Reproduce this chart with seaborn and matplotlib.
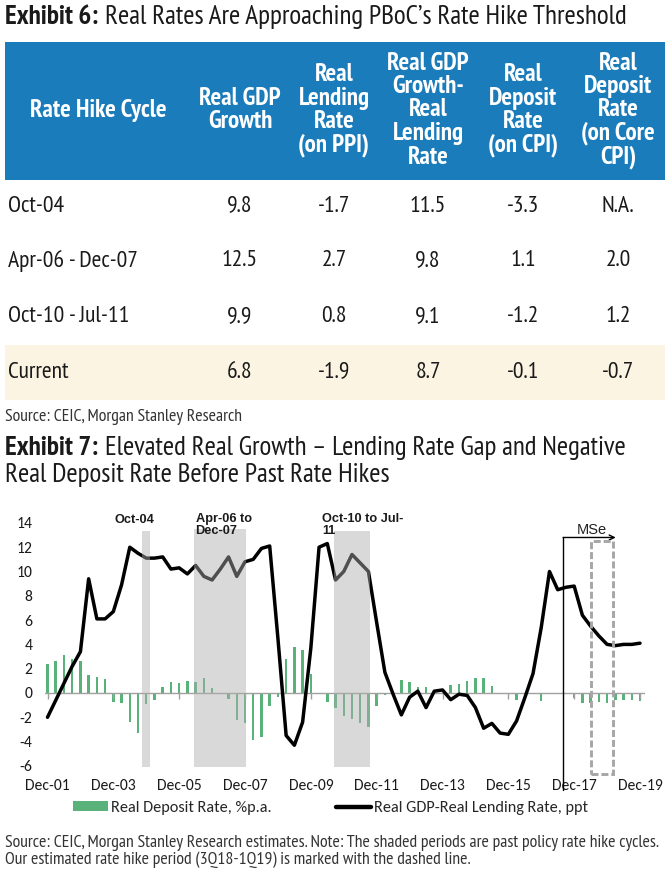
import numpy as np
import pandas as pd
import matplotlib
matplotlib.use("Agg")
import matplotlib.pyplot as plt
import seaborn as sns
from matplotlib.patches import Rectangle, Patch
from matplotlib.lines import Line2D
from matplotlib import font_manager as fm

# ---------------- Table data (Exhibit 6) ----------------
table_headers = ["Rate Hike Cycle", "Real GDP\nGrowth", "Real\nLending\nRate\n(on PPI)",
                 "Real GDP\nGrowth-\nReal\nLending\nRate", "Real\nDeposit\nRate\n(on CPI)",
                 "Real\nDeposit\nRate\n(on Core\nCPI)"]
cycles = ["Oct-04", "Apr-06 - Dec-07", "Oct-10 - Jul-11", "Current"]
real_gdp_growth = ["9.8", "12.5", "9.9", "6.8"]
real_lending_ppi = ["-1.7", "2.7", "0.8", "-1.9"]
gdp_minus_lending = ["11.5", "9.8", "9.1", "8.7"]
real_deposit_cpi = ["-3.3", "1.1", "-1.2", "-0.1"]
real_deposit_core = ["N.A.", "2.0", "1.2", "-0.7"]

# ---------------- Chart data (Exhibit 7), quarterly Dec-01 .. Dec-19 ----------------
quarters = pd.period_range("2001Q4", "2019Q4", freq="Q")
deposit_rate = [2.4, 2.6, 3.1, 2.8, 2.6, 1.5, 1.3, 1.15, -0.7, -0.8,
                -2.4, -3.3, -0.9, -0.6, 0.5, 0.9, 0.85, 1.0, 0.9, 1.2,
                0.4, 0.0, -0.5, -2.2, -2.5, -3.9, -3.6, -1.1, -0.3, 2.8,
                3.8, 3.5, 1.6, 0.0, -0.7, -1.2, -1.9, -2.1, -2.5, -2.8,
                -1.1, -0.2, 0.0, 1.1, 0.9, 0.5, 0.5, 0.0, 0.0, 0.65,
                0.75, 1.0, 1.2, 1.2, 0.55, 0.0, 0.0, -0.6, 0.0, 0.0,
                -0.65, -0.05, -0.05, 0.0, -0.45, -0.8, -0.8, -0.75, -0.8, -0.6,
                -0.6, -0.6, -0.65]
gdp_lending_gap = [-2.0, -0.6, 0.8, 2.2, 3.4, 9.4, 6.1, 6.1, 6.7, 8.9,
                   12.0, 11.5, 11.1, 11.1, 11.2, 10.2, 10.3, 9.8, 10.5, 9.6,
                   9.3, 10.2, 11.2, 9.6, 10.8, 11.0, 11.9, 12.1, 4.5, -3.5,
                   -4.3, -2.4, 3.7, 12.0, 12.3, 9.3, 10.0, 11.4, 10.7, 10.0,
                   5.8, 1.7, -0.1, -1.8, -0.35, 0.15, -1.2, 0.15, 0.25, -0.55,
                   -0.1, -0.2, -1.2, -2.9, -2.5, -3.3, -3.4, -2.3, -0.4, 1.6,
                   5.4, 10.0, 8.5, 8.7, 8.8, 6.4, 5.5, 4.7, 4.0, 3.9,
                   4.0, 4.0, 4.1]
x_tick_labels = ["Dec-01", "Dec-03", "Dec-05", "Dec-07", "Dec-09",
                 "Dec-11", "Dec-13", "Dec-15", "Dec-17", "Dec-19"]
y_ticks = [-6, -4, -2, 0, 2, 4, 6, 8, 10, 12, 14]

# past rate hike cycles (shaded), in quarter index units
band_labels = ["Oct-04", "Apr-06 to\nDec-07", "Oct-10 to Jul-\n11"]
band_start = [11.5, 17.8, 34.8]
band_end = [12.4, 24.1, 39.2]
band_top = [13.3, 13.5, 13.3]
band_bottom = -6.1
forecast_start = 62.7                       # MSe estimates begin
hike_est_start, hike_est_end = 66.1, 68.7   # 3Q18-1Q19 estimated hike period

series_deposit = "Real Deposit Rate, %p.a."
series_gap = "Real GDP-Real Lending Rate, ppt"

df = pd.DataFrame({"q": np.arange(len(quarters)),
                   series_deposit: deposit_rate,
                   series_gap: gdp_lending_gap})

# ---------------- Fonts ----------------
sns.set_theme(style="white")


def _w(f):
    try:
        return int(f.weight)
    except Exception:
        return 700 if "bold" in str(f.weight).lower() else 400


def has_family(name, need_bold=True):
    reg = any(f.name == name and _w(f) < 600 for f in fm.fontManager.ttflist)
    bold = any(f.name == name and _w(f) >= 700 for f in fm.fontManager.ttflist)
    return reg and (bold or not need_bold)


NARROW = "Liberation Sans"
for cand in ["Liberation Sans Narrow", "Arial Narrow", "PT Sans Narrow", "Roboto Condensed",
             "Fira Sans Condensed", "IBM Plex Sans Condensed", "Barlow Semi Condensed"]:
    if has_family(cand):
        NARROW = cand
        break
ARIAL = "Liberation Sans"
CAL = "Carlito" if has_family("Carlito", need_bold=False) else "Lato"
plt.rcParams["font.family"] = [CAL, "DejaVu Sans"]

BLUE = "#1B7CBB"
BEIGE = "#FBF4E3"
GREEN = "#58B27A"
TXT = "#1a1a1a"
SRC = "#333333"

W, H = 669, 875
fig = plt.figure(figsize=(W / 100, H / 100), dpi=100)
renderer = fig.canvas.get_renderer()


def width_px(text, **kw):
    t = fig.text(0, 0, text, **kw)
    w = t.get_window_extent(renderer=renderer).width
    t.remove()
    return w


def fit(text, target, **kw):
    return 10.0 * target / width_px(text, fontsize=10, **kw)


# background axes in pixel coordinates for the table and text
bg = fig.add_axes([0, 0, 1, 1])
bg.set_xlim(0, W)
bg.set_ylim(H, 0)
bg.axis("off")

GAP = 7


def title_size(bold, rest, target):
    wb = width_px(bold, fontsize=10, fontweight="bold", family=NARROW)
    wr = width_px(rest, fontsize=10, family=NARROW)
    return 10.0 * (target - GAP) / (wb + wr)


def title(y, bold, rest, size):
    t1 = bg.text(5, y, bold, fontsize=size, fontweight="bold", family=NARROW,
                 va="center", ha="left", color=TXT)
    bb = t1.get_window_extent(renderer=renderer)
    bg.text(bb.x1 + GAP, y, rest, fontsize=size, family=NARROW, va="center", ha="left", color=TXT)


t6_bold, t6_rest = "Exhibit 6:", "Real Rates Are Approaching PBoC\u2019s Rate Hike Threshold"
TS = title_size(t6_bold, t6_rest, 625)
title(17, t6_bold, t6_rest, TS)

# table header
HS = fit("Rate Hike Cycle", 137, fontweight="bold", family=NARROW)
BS = fit("Apr-06 - Dec-07", 130, family=NARROW)
bg.add_patch(Rectangle((5, 42), 660, 138, color=BLUE, lw=0))
col_x = [98, 240, 334, 428, 523, 618]
LINE_STEP = 23.5
for cx, htxt in zip(col_x, table_headers):
    parts = htxt.split("\n")
    n = len(parts)
    for i, p in enumerate(parts):
        bg.text(cx, 110 + (i - (n - 1) / 2) * LINE_STEP, p, fontsize=HS, fontweight="bold",
                family=NARROW, color="white", ha="center", va="center")

# current row highlight
bg.add_patch(Rectangle((5, 345), 660, 55, color=BEIGE, lw=0))
row_y = [206, 261, 317, 372]
columns = [real_gdp_growth, real_lending_ppi, gdp_minus_lending, real_deposit_cpi, real_deposit_core]
for i, ry in enumerate(row_y):
    bg.text(8, ry, cycles[i], fontsize=BS, family=NARROW, color=TXT, ha="left", va="center")
    for cx, col in zip(col_x[1:], columns):
        bg.text(cx, ry, col[i], fontsize=BS, family=NARROW, color=TXT, ha="center", va="center")

src1 = "Source: CEIC, Morgan Stanley Research"
SS = fit(src1, 238, family=NARROW)
bg.text(5, 417, src1, fontsize=SS, family=NARROW, color=SRC, ha="left", va="center")

t7_bold, t7_rest = "Exhibit 7:", "Elevated Real Growth \u2013 Lending Rate Gap and Negative"
title(448, t7_bold, t7_rest, TS)
bg.text(5, 475, "Real Deposit Rate Before Past Rate Hikes", fontsize=TS, family=NARROW,
        color=TXT, ha="left", va="center")

src2 = "Source: CEIC, Morgan Stanley Research estimates. Note: The shaded periods are past policy rate hike cycles."
SS2 = min(SS, fit(src2, 658, family=NARROW))
bg.text(5, 843, src2, fontsize=SS2, family=NARROW, color=SRC, ha="left", va="center")
bg.text(5, 860, "Our estimated rate hike period (3Q18-1Q19) is marked with the dashed line.",
        fontsize=SS2, family=NARROW, color=SRC, ha="left", va="center")

# ---------------- Chart axes ----------------
PXQ = (640 - 47.5) / 72
X0PX = 47.5
PXU = 12.15
Y0PX = 693
xmin, xmax = -0.3, 72.6
ymin, ymax = -6.2, 14.2
left_px = X0PX + xmin * PXQ
right_px = X0PX + xmax * PXQ
top_px = Y0PX - ymax * PXU
bot_px = Y0PX - ymin * PXU
ax = fig.add_axes([left_px / W, 1 - bot_px / H, (right_px - left_px) / W, (bot_px - top_px) / H])
ax.patch.set_alpha(0)

sns.barplot(data=df, x="q", y=series_deposit, native_scale=True, width=0.3,
            color=GREEN, saturation=1, ax=ax, zorder=2, linewidth=0)
sns.lineplot(data=df, x="q", y=series_gap, color="black", lw=2.5, ax=ax, zorder=3)

for s, e, t in zip(band_start, band_end, band_top):
    ax.fill_between([s, e], [band_bottom, band_bottom], [t, t], color=(174 / 255,) * 3,
                    alpha=0.46, lw=0, zorder=4)

ax.text(10.6, 14.25, band_labels[0], fontsize=9.2, fontweight="bold", family=ARIAL,
        ha="center", va="center", color=TXT, zorder=5)
ax.text(18.0, 13.85, band_labels[1], fontsize=9.2, fontweight="bold", family=ARIAL,
        ha="left", va="center", color=TXT, zorder=5, linespacing=1.0)
ax.text(33.4, 13.85, band_labels[2], fontsize=9.2, fontweight="bold", family=ARIAL,
        ha="left", va="center", color=TXT, zorder=5, linespacing=1.0)

ax.axhline(0, color="#A0A0A0", lw=1, zorder=2.5)

# forecast marker
ax.plot([forecast_start, forecast_start], [12.8, -8.0], color="black", lw=1,
        clip_on=False, zorder=6)
ax.annotate("", xy=(69.05, 12.8), xytext=(forecast_start - 0.05, 12.8),
            arrowprops=dict(arrowstyle="->", lw=1, color="black", shrinkA=0, shrinkB=0,
                            mutation_scale=9),
            annotation_clip=False, zorder=6)
ax.text(66.1, 13.45, "MSe", fontsize=10.5, family=ARIAL, ha="center", va="center",
        color="#222222", zorder=6)
ax.add_patch(Rectangle((hike_est_start, -6.7), hike_est_end - hike_est_start, 12.5 + 6.7,
                       fill=False, ec="#A6A6A6", lw=2.1, ls=(0, (2.4, 1.0)),
                       clip_on=False, zorder=6))

TKS = fit("Dec-01", 45, family=CAL)
ax.set_xlim(xmin, xmax)
ax.set_ylim(ymin, ymax)
ax.set_xticks(np.arange(0, len(quarters), 8))
ax.set_xticklabels(x_tick_labels)
ax.set_yticks(y_ticks)
ax.set_yticklabels([str(v) for v in y_ticks])
ax.tick_params(axis="x", length=0, pad=8, labelsize=TKS, labelcolor=TXT)
ax.tick_params(axis="y", length=0, pad=9, labelsize=TKS, labelcolor=TXT)
for lab in ax.get_xticklabels() + ax.get_yticklabels():
    lab.set_family([CAL, "DejaVu Sans"])
ax.set_xlabel("")
ax.set_ylabel("")
for sp in ax.spines.values():
    sp.set_visible(False)
ax.grid(False)

# small tick marks on the zero axis
frac0 = (0 - ymin) / (ymax - ymin)
sec = ax.secondary_xaxis(frac0)
sec.set_xticks(np.arange(0, len(quarters), 8))
sec.tick_params(axis="x", length=4, direction="out", color="#A0A0A0", labelbottom=False, width=1)
sec.spines["bottom"].set_visible(False)
sec.set_zorder(2.6)
if ax.get_legend() is not None:
    ax.get_legend().remove()

# legend
LS = fit(series_deposit, 162, family=CAL)
lpx = LS * 100 / 72
handles = [Patch(color=GREEN, lw=0), Line2D([], [], color="black", lw=3.2)]
fig.legend(handles, [series_deposit, series_gap], loc="center left",
           bbox_to_anchor=(73 / W, 1 - 808 / H), ncol=2, frameon=False,
           prop={"family": [CAL, "DejaVu Sans"], "size": LS},
           handlelength=35 / lpx, handleheight=0.55, handletextpad=3 / lpx,
           columnspacing=64 / lpx, borderpad=0, borderaxespad=0)

fig.savefig("out.png", dpi=100)
